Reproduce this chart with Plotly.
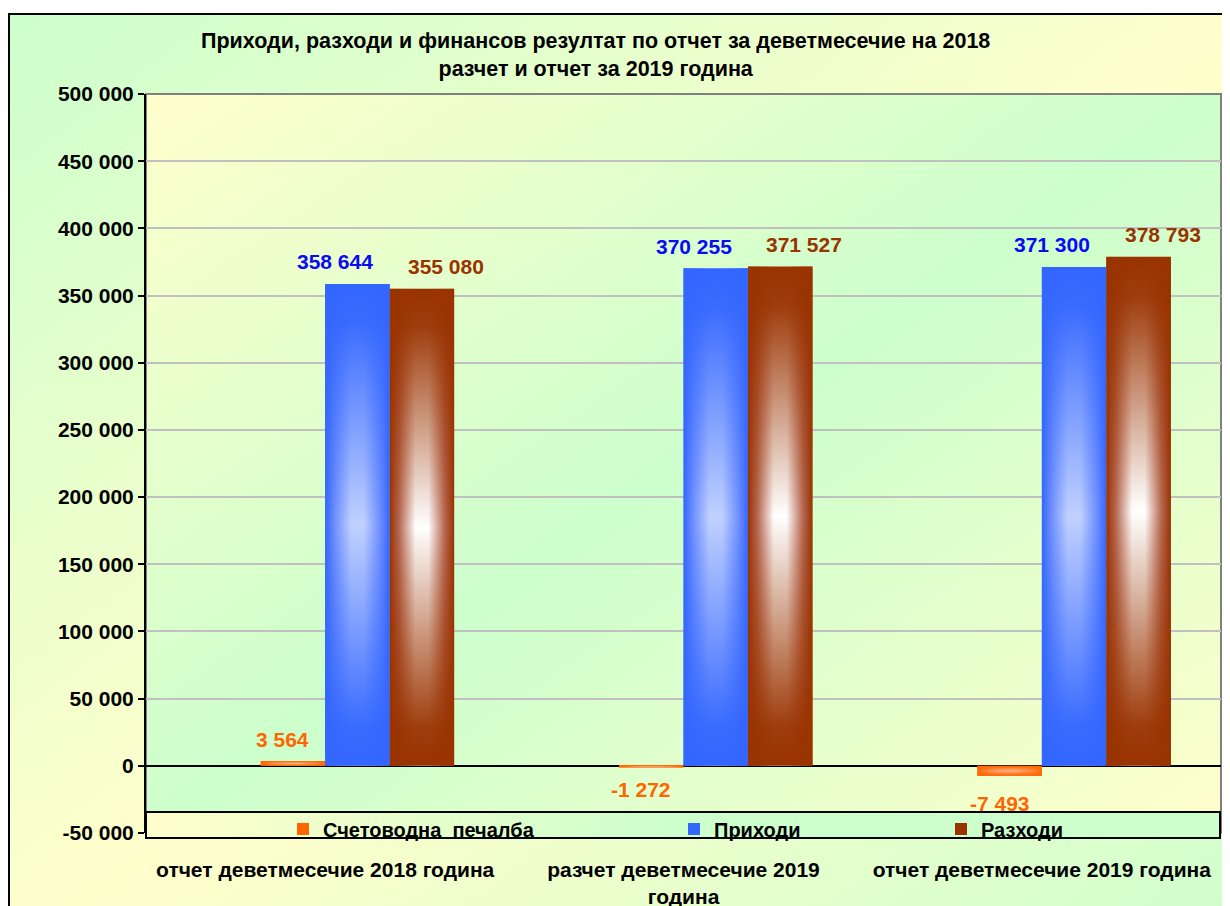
import base64
import plotly.graph_objects as go

# ---------------- data ----------------
categories = [
    "отчет деветмесечие 2018 година",
    "разчет деветмесечие 2019<br>година",
    "отчет деветмесечие 2019 година",
]
series_names = ["Счетоводна  печалба", "Приходи", "Разходи"]
profit = [3564, -1272, -7493]
income = [358644, 370255, 371300]
expense = [355080, 371527, 378793]
y_ticks = list(range(-50000, 500001, 50000))
y_ticktext = [f"{v:,}".replace(",", " ") for v in y_ticks]
title_text = ("Приходи, разходи и финансов резултат по отчет за деветмесечие на 2018"
              "<br>разчет и отчет за 2019 година")

# ---------------- styling ----------------
W, H = 1230, 906
OFF = 8  # page body margin
ML, MR, MT, MB = 138, 17, 86, 81
PW, PH = W - ML - MR, H - MT - MB
FONT = "Liberation Sans, Arial, sans-serif"
YELLOW, GREEN = "#FFFFCC", "#CCFFCC"

def px_x(px):  # screen pixel -> paper x
    return (px - OFF - ML) / PW

def px_y(py):  # screen pixel -> paper y
    return (H - MB - (py - OFF)) / PH

def svg_uri(svg):
    return "data:image/svg+xml;base64," + base64.b64encode(svg.encode()).decode()

def lin_grad(stops, x2, y2):
    s = "".join(f"<stop offset='{o}' stop-color='{c}'/>" for o, c in stops)
    svg = (f"<svg xmlns='http://www.w3.org/2000/svg' width='100' height='100' viewBox='0 0 100 100' "
           f"preserveAspectRatio='none'><defs><linearGradient id='g' x1='0' y1='0' x2='{x2}' y2='{y2}'>{s}"
           f"</linearGradient></defs><rect width='100' height='100' fill='url(#g)'/></svg>")
    return svg_uri(svg)

def bar_grad(edge, mid, center):
    svg = ("<svg xmlns='http://www.w3.org/2000/svg' width='100' height='100' viewBox='0 0 100 100' "
           "preserveAspectRatio='none'><defs>"
           f"<linearGradient id='h' x1='0' y1='0' x2='1' y2='0'>"
           f"<stop offset='0' stop-color='{edge}'/><stop offset='0.15' stop-color='{mid}'/>"
           f"<stop offset='0.4' stop-color='{center}'/><stop offset='0.6' stop-color='{center}'/>"
           f"<stop offset='0.85' stop-color='{mid}'/><stop offset='1' stop-color='{edge}'/></linearGradient>"
           f"<linearGradient id='v' x1='0' y1='0' x2='0' y2='1'>"
           f"<stop offset='0' stop-color='{edge}' stop-opacity='1'/>"
           f"<stop offset='0.08' stop-color='{edge}' stop-opacity='0.95'/>"
           f"<stop offset='0.5' stop-color='{edge}' stop-opacity='0'/>"
           f"<stop offset='0.92' stop-color='{edge}' stop-opacity='0.95'/>"
           f"<stop offset='1' stop-color='{edge}' stop-opacity='1'/></linearGradient></defs>"
           "<rect width='100' height='100' fill='url(#h)'/><rect width='100' height='100' fill='url(#v)'/></svg>")
    return svg_uri(svg)

styles = [
    dict(color="#FF6600", mid="#FF8A40", center="#FFB080", label="#FF6600", dx=-10),
    dict(color="#3366FF", mid="#7090FF", center="#C0D0FF", label="#0A0AF5", dx=-22),
    dict(color="#993300", mid="#B86A55", center="#FFFFFF", label="#993300", dx=24),
]
BAR_W = 0.18
offsets = [-BAR_W, 0.0, BAR_W]
all_series = [profit, income, expense]

fig = go.Figure()
legend_ids = ["legend", "legend2", "legend3"]
for k, (name, vals) in enumerate(zip(series_names, all_series)):
    st = styles[k]
    fig.add_trace(go.Bar(
        x=categories, y=vals, name=name,
        width=BAR_W, offset=offsets[k],
        marker=dict(color=st["color"], line=dict(width=0)),
        legend=legend_ids[k],
    ))

images = []
# figure background (inside frame)
images.append(dict(source=lin_grad([(0, GREEN), (0.5, YELLOW), (1, GREEN)], 1, 1),
                   xref="paper", yref="paper", x=px_x(9), y=px_y(14), sizex=(W + 40) / PW,
                   sizey=(H + 40) / PH, xanchor="left", yanchor="top",
                   sizing="stretch", layer="below"))
# plot area background
images.append(dict(source=lin_grad([(0, YELLOW), (0.5, GREEN), (1, YELLOW)], 1, 1),
                   xref="paper", yref="paper", x=0, y=1, sizex=1, sizey=1,
                   xanchor="left", yanchor="top", sizing="stretch", layer="below"))
# bar gradients (derived from the data values)
for k, vals in enumerate(all_series):
    st = styles[k]
    src = bar_grad(st["color"], st["mid"], st["center"])
    for i, v in enumerate(vals):
        images.append(dict(source=src, xref="x", yref="y", x=i + offsets[k],
                           y=max(v, 0), sizex=BAR_W, sizey=abs(v),
                           xanchor="left", yanchor="top", sizing="stretch", layer="above"))
# legend box background
images.append(dict(source=lin_grad([(0, YELLOW), (0.5, GREEN), (1, GREEN)], 1, 0),
                   xref="paper", yref="paper", x=0, y=px_y(812), sizex=px_x(1220),
                   sizey=px_y(812) - px_y(838), xanchor="left", yanchor="top",
                   sizing="stretch", layer="above"))

annotations = []
for k, vals in enumerate(all_series):
    st = styles[k]
    for i, v in enumerate(vals):
        annotations.append(dict(
            x=i + offsets[k] + BAR_W / 2, y=v, xref="x", yref="y",
            text=f"{v:,}".replace(",", " "), showarrow=False,
            xshift=st["dx"], yshift=(22 if v >= 0 else -22 - (6 if k == 0 and i == 2 else 0)),
            font=dict(family=FONT, size=21, color=st["label"], weight="bold"),
        ))
annotations.append(dict(
    text=title_text, x=px_x(595), y=px_y(55), xref="paper", yref="paper",
    showarrow=False, xanchor="center", yanchor="middle",
    font=dict(family=FONT, size=21.5, color="black", weight="bold"),
))

shapes = [
    # outer frame
    dict(type="rect", xref="paper", yref="paper", x0=px_x(9), y0=px_y(14),
         x1=px_x(W + 40), y1=px_y(H + 40), line=dict(color="black", width=2), layer="above"),
    # plot area border (grey)
    dict(type="rect", xref="paper", yref="paper", x0=0, y0=0, x1=1, y1=1,
         line=dict(color="#808080", width=2), layer="below"),
    # legend box
    dict(type="rect", xref="paper", yref="paper", x0=0, y0=px_y(838), x1=px_x(1220), y1=px_y(812),
         line=dict(color="black", width=2), layer="above"),
]

legend_lefts = [283, 674, 941]
legend_common = dict(orientation="h", yanchor="middle", xanchor="left",
                     bgcolor="rgba(0,0,0,0)", borderwidth=0, itemwidth=30,
                     font=dict(family=FONT, size=20, color="black", weight="bold"))
fig.update_layout(
    width=W, height=H,
    margin=dict(l=ML, r=MR, t=MT, b=MB, pad=0, autoexpand=False),
    paper_bgcolor="white", plot_bgcolor="rgba(0,0,0,0)",
    barmode="group", showlegend=True,
    legend=dict(x=px_x(legend_lefts[0]), y=px_y(829), **legend_common),
    legend2=dict(x=px_x(legend_lefts[1]), y=px_y(829), **legend_common),
    legend3=dict(x=px_x(legend_lefts[2]), y=px_y(829), **legend_common),
    images=images, shapes=shapes, annotations=annotations,
    xaxis=dict(type="category", showgrid=False, showline=False, ticks="",
               ticklabelstandoff=22, range=[-0.5, 2.5], automargin=False,
               tickfont=dict(family=FONT, size=21, color="black", weight="bold")),
    yaxis=dict(range=[-50000, 500000], tickvals=y_ticks, ticktext=y_ticktext,
               showgrid=True, gridcolor="#C0C0C0", gridwidth=2, automargin=False,
               zeroline=True, zerolinecolor="black", zerolinewidth=2,
               showline=True, linecolor="black", linewidth=2,
               ticks="outside", ticklen=6, tickwidth=2, tickcolor="black",
               tickfont=dict(family=FONT, size=21, color="black", weight="bold")),
)

fig.write_html("out.html")
